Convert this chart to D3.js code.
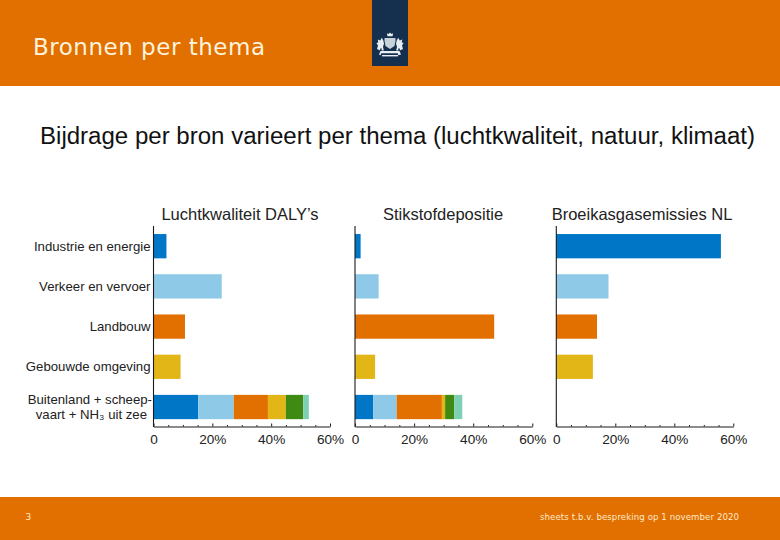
<!DOCTYPE html>
<html><head><meta charset="utf-8">
<script src="https://cdn.jsdelivr.net/npm/d3@7/dist/d3.min.js"></script>
<style>html,body{margin:0;padding:0;background:#fff}svg{display:block}</style></head>
<body><div id="c"></div>
<script>
const categories = ["Industrie en energie","Verkeer en vervoer","Landbouw","Gebouwde omgeving","Buitenland"];
const categoryLabelLines = [["Industrie en energie"],["Verkeer en vervoer"],["Landbouw"],["Gebouwde omgeving"],["Buitenland + scheep-","vaart + NH₃ uit zee"]];
const panelTitles = ["Luchtkwaliteit DALY’s","Stikstofdepositie","Broeikasgasemissies NL"];
const segmentColors = ["#0077c6","#8fc9e8","#e17000","#e3b618","#3f8a12","#7ed0b2"];
const luchtSingle = [4.4,23.2,10.7,9.2];
const stikstofSingle = [1.9,8.0,47.1,6.8];
const broeikasSingle = [55.8,17.7,13.8,12.4];
const luchtBuitenland = [15.2,12.1,11.6,6.1,5.9,1.9];
const stikstofBuitenland = [6.2,7.9,15.3,1.1,3.1,2.7];
const broeikasBuitenland = [];
const tickValues = [0,20,40,60];
const minorTicks = [5,10,15,25,30,35,45,50,55];
const headerTitle = "Bronnen per thema";
const subTitle = "Bijdrage per bron varieert per thema (luchtkwaliteit, natuur, klimaat)";
const footerLeft = "3";
const footerRight = "sheets t.b.v. bespreking op 1 november 2020";

const W=780,H=540,orange="#e17000",ink="#1a1a1a";
const svg=d3.select("#c").append("svg").attr("width",W).attr("height",H).attr("viewBox",`0 0 ${W} ${H}`);
svg.append("rect").attr("width",W).attr("height",H).attr("fill","#fff");
svg.append("rect").attr("width",W).attr("height",86).attr("fill",orange);
svg.append("rect").attr("y",497).attr("width",W).attr("height",43).attr("fill",orange);

// logo
const logo=svg.append("g");
logo.append("rect").attr("x",372).attr("width",36).attr("height",66).attr("fill","#15304f");
const crest=logo.append("g").attr("fill","#e8eef2");
crest.append("path").attr("d","M390 32.5l1.4 1.6 1.6-.8-.4 3h-5.2l-.4-3 1.6.8z");
crest.append("path").attr("d","M384.5 38h11v2.6l-1 5.4-4.5 3-4.5-3-1-5.4z").attr("opacity",.85);
crest.append("path").attr("d","M377 49l1-3.4-1.6-2.6 1.8-.6-.4-3 2.4 1 1.6-2.6 1.6 3 .6 3-1 3 .8 3.6h-2l-.4-2.4-1.4 1 .2 1.4z");
crest.append("path").attr("d","M403 49l-1-3.4 1.6-2.6-1.8-.6.4-3-2.4 1-1.6-2.6-1.6 3-.6 3 1 3-.8 3.6h2l.4-2.4 1.4 1-.2 1.4z");
crest.append("path").attr("d","M379 54.5l1.5-3.5h19l1.5 3.5-2.5.7-.8-2h-16.4l-.8 2z");
crest.append("rect").attr("x",382).attr("y",55).attr("width",16).attr("height",1.4);

svg.append("text").text(headerTitle).attr("x",33).attr("y",55).attr("font-family","DejaVu Sans").attr("font-size",23).attr("fill","#fff3dc").attr("textLength",232);
svg.append("text").text(subTitle).attr("x",40).attr("y",144).attr("font-family","Liberation Sans").attr("font-size",24.05).attr("fill","#111");
svg.append("text").text(footerLeft).attr("x",25.5).attr("y",520).attr("font-family","DejaVu Sans").attr("font-size",9).attr("fill","#ffe9c8");
svg.append("text").text(footerRight).attr("x",540).attr("y",520).attr("font-family","DejaVu Sans").attr("font-size",8.6).attr("fill","#ffe9c8").attr("textLength",199);

const panels=[
 {title:panelTitles[0],single:luchtSingle,stack:luchtBuitenland,x0:153.5,x1:330,tc:240},
 {title:panelTitles[1],single:stikstofSingle,stack:stikstofBuitenland,x0:355,x1:532.3,tc:443},
 {title:panelTitles[2],single:broeikasSingle,stack:broeikasBuitenland,x0:556.3,x1:733.3,tc:642}
];
const y=d3.scaleBand().domain(categories).range([226,427.2]).paddingInner(0.396).paddingOuter(0.2);
const font="Liberation Sans";

panels.forEach(p=>{
  const x=d3.scaleLinear().domain([0,60]).range([p.x0,p.x1]);
  const g=svg.append("g");
  g.append("text").text(p.title).attr("x",p.tc).attr("y",220).attr("text-anchor","middle").attr("font-family",font).attr("font-size",16.5).attr("fill","#222");
  p.single.forEach((v,i)=>{
    g.append("rect").attr("x",x(0)).attr("y",y(categories[i])).attr("width",x(v)-x(0)).attr("height",y.bandwidth()).attr("fill",segmentColors[i]);
  });
  let acc=0;
  p.stack.forEach((v,i)=>{
    g.append("rect").attr("x",x(acc)).attr("y",y(categories[4])).attr("width",x(acc+v)-x(acc)).attr("height",y.bandwidth()).attr("fill",segmentColors[i]);
    acc+=v;
  });
  const axY=426.5;
  const ax=g.append("g").attr("transform",`translate(0,${axY})`)
    .call(d3.axisBottom(x).tickValues(tickValues).tickFormat(d=>d===0?"0":d+"%").tickSize(-3).tickSizeOuter(0).tickPadding(7.5));
  ax.selectAll("path").attr("stroke",ink).attr("stroke-width",1.1);
  ax.selectAll("line").attr("stroke",ink);
  ax.selectAll("text").attr("font-family",font).attr("font-size",13.6).attr("fill","#222");
  g.append("g").attr("transform",`translate(0,${axY})`)
    .call(d3.axisBottom(x).tickValues(minorTicks).tickFormat("").tickSize(-1.5).tickSizeOuter(0))
    .call(s=>s.select("path").remove()).selectAll("line").attr("stroke",ink);
  g.append("line").attr("x1",x(0)).attr("x2",x(0)).attr("y1",226).attr("y2",axY+.5).attr("stroke",ink).attr("stroke-width",1.1);
});

// row labels
categoryLabelLines.forEach((lines,i)=>{
  const yc=y(categories[i])+y.bandwidth()/2;
  lines.forEach((l,j)=>{
    svg.append("text").text(l).attr("x",i===4?(j===0?152:147):150.5).attr("y",yc+4.6+(j-(lines.length-1)/2)*15.5)
      .attr("text-anchor","end").attr("font-family",font).attr("font-size",13.2).attr("fill","#222");
  });
});
</script></body></html>
